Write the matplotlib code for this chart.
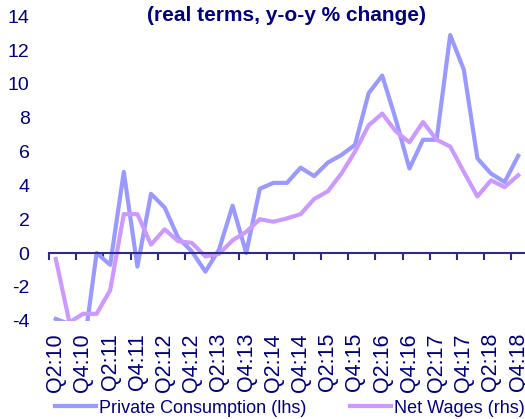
import numpy as np
import matplotlib
matplotlib.use('Agg')
import matplotlib.pyplot as plt
from matplotlib.ticker import FixedLocator

plt.rcParams['font.family'] = ['Liberation Sans', 'DejaVu Sans']
plt.rcParams['axes.unicode_minus'] = False

# quarters Q2:10 .. Q4:18
quarters = ['Q2:10', 'Q3:10', 'Q4:10',
            'Q1:11', 'Q2:11', 'Q3:11', 'Q4:11',
            'Q1:12', 'Q2:12', 'Q3:12', 'Q4:12',
            'Q1:13', 'Q2:13', 'Q3:13', 'Q4:13',
            'Q1:14', 'Q2:14', 'Q3:14', 'Q4:14',
            'Q1:15', 'Q2:15', 'Q3:15', 'Q4:15',
            'Q1:16', 'Q2:16', 'Q3:16', 'Q4:16',
            'Q1:17', 'Q2:17', 'Q3:17', 'Q4:17',
            'Q1:18', 'Q2:18', 'Q3:18', 'Q4:18']

private_consumption = [-3.9, -4.2, -6.0, 0.0, -0.7, 4.8, -0.8, 3.5, 2.7, 0.9,
                       0.1, -1.1, 0.2, 2.8, 0.0, 3.8, 4.15, 4.15, 5.05, 4.55,
                       5.35, 5.8, 6.4, 9.45, 10.5, 7.9, 5.0, 6.7, 6.7, 12.9,
                       10.85, 5.6, 4.7, 4.2, 5.75]

net_wages = [-0.35, -4.1, -3.6, -3.6, -2.2, 2.3, 2.3, 0.5, 1.4, 0.7,
             0.6, -0.2, -0.05, 0.75, 1.25, 2.0, 1.85, 2.05, 2.3, 3.2,
             3.65, 4.7, 6.0, 7.55, 8.25, 7.2, 6.55, 7.75, 6.7, 6.3,
             4.8, 3.35, 4.3, 3.9, 4.6]

y_ticks = [-4, -2, 0, 2, 4, 6, 8, 10, 12, 14]

navy = '#000080'
axis_col = '#2B2B8C'
blue = '#9999FF'
purple = '#CC99FF'

x = np.arange(len(quarters))

fig = plt.figure(figsize=(5.25, 4.19), dpi=100)
ax = fig.add_axes([0.0933, 0.2348, 0.9067, 0.7261])

ax.plot(x, private_consumption, color=blue, lw=3, label='Private Consumption (lhs)')
ax.plot(x, net_wages, color=purple, lw=3, label='Net Wages (rhs)')

ax.set_xlim(-0.5, len(quarters) - 0.5)
ax.set_ylim(-4, 14)
ax.set_yticks(y_ticks)
ax.tick_params(axis='y', length=0, pad=14, labelsize=14, labelcolor=navy)

for s in ['top', 'right', 'left']:
    ax.spines[s].set_visible(False)
ax.spines['bottom'].set_position(('data', 0))
ax.spines['bottom'].set_color(axis_col)
ax.spines['bottom'].set_linewidth(1.5)
ax.xaxis.set_major_locator(FixedLocator(np.arange(-0.5, len(quarters) - 1, 2)))
ax.tick_params(axis='x', direction='out', length=5, width=1.5, color=axis_col,
               labelbottom=False)

# quarter labels along the bottom
ax2 = ax.twiny()
ax2.set_xlim(ax.get_xlim())
ax2.xaxis.set_ticks_position('bottom')
ax2.xaxis.set_label_position('bottom')
ax2.set_xticks(x[::2])
ax2.set_xticklabels(quarters[::2], rotation=90)
ax2.tick_params(axis='x', length=0, pad=9, labelsize=15.5, labelcolor=navy)
for s in ax2.spines.values():
    s.set_visible(False)

fig.text(0.545, 0.963, '(real terms, y-o-y % change)', ha='center', va='center',
         fontsize=15, fontweight='bold', color=navy)

leg = fig.legend(loc='center', bbox_to_anchor=(0.552, 0.026), ncol=2, frameon=False,
                 fontsize=13, handlelength=2.3, handletextpad=0.15, columnspacing=2.4,
                 borderaxespad=0, borderpad=0)
for t in leg.get_texts():
    t.set_color(navy)

fig.savefig('out.png', dpi=100)
